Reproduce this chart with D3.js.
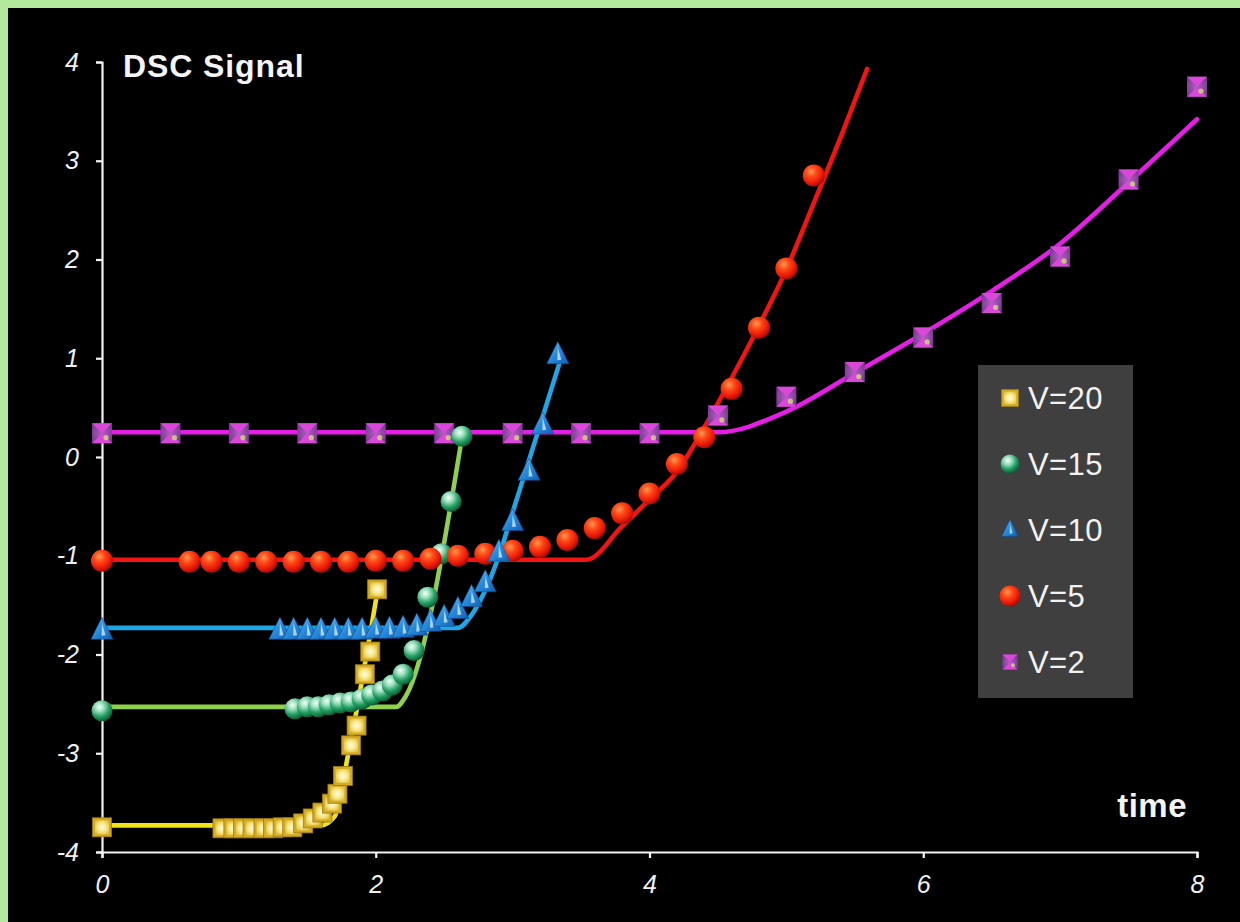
<!DOCTYPE html>
<html>
<head>
<meta charset="utf-8">
<script src="https://cdn.jsdelivr.net/npm/d3@7/dist/d3.min.js"></script>
<style>
  html, body { margin: 0; padding: 0; background: #b3e99d; }
  svg { display: block; }
  text { font-family: "Liberation Sans", Arial, sans-serif; }
</style>
</head>
<body>
<svg id="chart" width="1240" height="922"></svg>
<script>
// ---- data: DSC signal vs time for several heating rates V ----
const seriesNames = ["V=20", "V=15", "V=10", "V=5", "V=2"];
const xTicks = [0, 2, 4, 6, 8];
const yTicks = [-4, -3, -2, -1, 0, 1, 2, 3, 4];

// V=20 measured points and fitted curve
const tV20 = [0, 0.88, 0.96, 1.03, 1.10, 1.18, 1.25, 1.32, 1.39, 1.47, 1.54, 1.61, 1.68, 1.72, 1.76, 1.82, 1.86, 1.92, 1.96, 2.01];
const yV20 = [-3.75, -3.76, -3.76, -3.76, -3.76, -3.76, -3.76, -3.75, -3.75, -3.71, -3.66, -3.60, -3.51, -3.41, -3.23, -2.92, -2.72, -2.20, -1.97, -1.34];
const tV20Fit = [0, 1.60, 1.70, 1.80, 2.01];
const yV20Fit = [-3.73, -3.73, -3.64, -3.00, -1.38];

// V=15
const tV15 = [0, 1.41, 1.50, 1.58, 1.66, 1.74, 1.82, 1.90, 1.97, 2.05, 2.12, 2.20, 2.28, 2.38, 2.48, 2.55, 2.63];
const yV15 = [-2.57, -2.55, -2.53, -2.53, -2.51, -2.49, -2.48, -2.45, -2.41, -2.37, -2.31, -2.20, -1.96, -1.42, -0.98, -0.45, 0.21];
const tV15Fit = [0, 2.15, 2.22, 2.63];
const yV15Fit = [-2.53, -2.53, -2.42, 0.20];

// V=10
const tV10 = [0, 1.3, 1.4, 1.5, 1.6, 1.7, 1.8, 1.9, 2.0, 2.1, 2.2, 2.3, 2.4, 2.5, 2.6, 2.7, 2.8, 2.9, 3.0, 3.12, 3.22, 3.33];
const yV10 = [-1.76, -1.76, -1.76, -1.76, -1.76, -1.76, -1.76, -1.76, -1.75, -1.75, -1.74, -1.72, -1.68, -1.63, -1.55, -1.43, -1.28, -0.97, -0.66, -0.15, 0.32, 1.03];
const tV10Fit = [0, 2.6, 2.7, 2.8, 2.9, 3.0, 3.1, 3.2, 3.34];
const yV10Fit = [-1.73, -1.73, -1.60, -1.35, -1.00, -0.56, -0.12, 0.32, 0.94];

// V=5
const tV5 = [0, 0.64, 0.8, 1.0, 1.2, 1.4, 1.6, 1.8, 2.0, 2.2, 2.4, 2.6, 2.8, 3.0, 3.2, 3.4, 3.6, 3.8, 4.0, 4.2, 4.4, 4.6, 4.8, 5.0, 5.2];
const yV5 = [-1.05, -1.06, -1.06, -1.06, -1.06, -1.06, -1.06, -1.06, -1.05, -1.05, -1.03, -1.00, -0.98, -0.95, -0.91, -0.84, -0.72, -0.57, -0.37, -0.07, 0.20, 0.69, 1.31, 1.91, 2.85];
const tV5Fit = [0, 3.54, 3.8, 4.0, 4.2, 4.4, 4.6, 4.8, 5.0, 5.2, 5.4, 5.59];
const yV5Fit = [-1.04, -1.04, -0.70, -0.43, -0.15, 0.30, 0.80, 1.33, 1.90, 2.57, 3.25, 3.93];

// V=2
const tV2 = [0, 0.5, 1, 1.5, 2, 2.5, 3, 3.5, 4, 4.5, 5, 5.5, 6, 6.5, 7, 7.5, 8];
const yV2 = [0.24, 0.24, 0.24, 0.24, 0.24, 0.24, 0.24, 0.24, 0.24, 0.42, 0.61, 0.86, 1.21, 1.56, 2.03, 2.81, 3.75];
const tV2Fit = [0, 4.5, 5, 5.5, 6, 6.5, 7, 7.5, 8];
const yV2Fit = [0.25, 0.25, 0.46, 0.85, 1.25, 1.68, 2.16, 2.78, 3.42];

// ---- chart setup ----
const W = 1240, H = 922;
const svg = d3.select("#chart");

const x = d3.scaleLinear().domain([0, 8]).range([102, 1197]);
const y = d3.scaleLinear().domain([-4, 4]).range([852, 62]);

const zip = (a, b) => a.map((v, i) => [v, b[i]]);

const series = [
  { name: seriesNames[4], pts: zip(tV2, yV2),   fit: zip(tV2Fit, yV2Fit),   color: "#e41ee4", shape: "hourglass" },
  { name: seriesNames[0], pts: zip(tV20, yV20), fit: zip(tV20Fit, yV20Fit), color: "#f2e21a", shape: "square" },
  { name: seriesNames[1], pts: zip(tV15, yV15), fit: zip(tV15Fit, yV15Fit), color: "#8fd04c", shape: "greenBall" },
  { name: seriesNames[3], pts: zip(tV5, yV5),   fit: zip(tV5Fit, yV5Fit),   color: "#f21410", shape: "redBall" },
  { name: seriesNames[2], pts: zip(tV10, yV10), fit: zip(tV10Fit, yV10Fit), color: "#1ea6e6", shape: "triangle" }
];

// ---- gradients for the shaded markers ----
const defs = svg.append("defs");
function radial(id, stops, cx = "38%", cy = "32%", r = "70%") {
  const g = defs.append("radialGradient").attr("id", id)
    .attr("cx", cx).attr("cy", cy).attr("r", r);
  stops.forEach(([o, c]) => g.append("stop").attr("offset", o).attr("stop-color", c));
}
radial("gGreen", [["0%", "#f2fff8"], ["30%", "#9fe0c0"], ["65%", "#24a064"], ["100%", "#0b5a32"]]);
radial("gRed", [["0%", "#ff9a50"], ["35%", "#ff4a18"], ["75%", "#e81808"], ["100%", "#a00c04"]]);
radial("gYellow", [["0%", "#fffbe6"], ["45%", "#f8e88a"], ["100%", "#d8b226"]], "50%", "50%", "70%");
const lg = defs.append("linearGradient").attr("id", "gBlue")
  .attr("x1", "0%").attr("y1", "0%").attr("x2", "100%").attr("y2", "100%");
[["0%", "#7ed0ff"], ["45%", "#2a8ee0"], ["100%", "#135fb0"]]
  .forEach(([o, c]) => lg.append("stop").attr("offset", o).attr("stop-color", c));
radial("gPurple", [["0%", "#b060c0"], ["100%", "#70308a"]], "50%", "50%", "70%");

// ---- background ----
svg.append("rect").attr("x", 0).attr("y", 0).attr("width", W).attr("height", H).attr("fill", "#b3e99d");
svg.append("rect").attr("x", 8).attr("y", 8).attr("width", W - 8).attr("height", H - 8).attr("fill", "#000");

// ---- axes ----
const axisColor = "#f2f2f2";
const gy = svg.append("g").attr("transform", `translate(${x(0)},0)`)
  .call(d3.axisLeft(y).tickValues(yTicks).tickSize(6).tickPadding(17).tickFormat(d => String(d)));
const gx = svg.append("g").attr("transform", `translate(0,${y(-4)})`)
  .call(d3.axisBottom(x).tickValues(xTicks).tickSize(6).tickPadding(17).tickFormat(d => String(d)));
[gx, gy].forEach(g => {
  g.select(".domain").attr("stroke", axisColor).attr("stroke-width", 2.2);
  g.selectAll(".tick line").attr("stroke", axisColor).attr("stroke-width", 2.2);
  g.selectAll(".tick text").attr("fill", "#f0f0f0").attr("font-size", 25)
    .attr("font-style", "italic").attr("font-family", "'Liberation Sans', Arial, sans-serif");
});

// ---- fitted curves ----
const line = d3.line().x(d => x(d[0])).y(d => y(d[1])).curve(d3.curveMonotoneX);
const lineLayer = svg.append("g");
series.forEach(s => {
  lineLayer.append("path").datum(s.fit).attr("d", line)
    .attr("fill", "none").attr("stroke", s.color).attr("stroke-width", 4.6)
    .attr("stroke-linejoin", "round").attr("stroke-linecap", "round");
});

// ---- markers ----
function drawMarker(g, shape, k) {
  if (shape === "square") {
    const s = 19 * k;
    g.append("rect").attr("x", -s / 2).attr("y", -s / 2).attr("width", s).attr("height", s)
      .attr("fill", "#d4aa22").attr("stroke", "#9a7a10").attr("stroke-width", 0.8);
    g.append("rect").attr("x", -s / 2 + 2.5 * k).attr("y", -s / 2 + 2.5 * k)
      .attr("width", s - 5 * k).attr("height", s - 5 * k).attr("fill", "url(#gYellow)");
  } else if (shape === "greenBall") {
    g.append("circle").attr("r", 10.5 * k).attr("fill", "url(#gGreen)");
  } else if (shape === "redBall") {
    g.append("circle").attr("r", 11 * k).attr("fill", "url(#gRed)");
  } else if (shape === "triangle") {
    const w = 22 * k, h = 22 * k;
    g.append("path").attr("d", `M0,${-h * 0.62}L${w / 2},${h * 0.38}L${-w / 2},${h * 0.38}Z`)
      .attr("fill", "url(#gBlue)").attr("stroke", "#0e4f96").attr("stroke-width", 0.6);
    g.append("path").attr("d", `M0,${-h * 0.35}L${w * 0.16},${h * 0.2}L${-w * 0.02},${h * 0.22}Z`)
      .attr("fill", "#d8f0ff").attr("opacity", 0.75);
  } else if (shape === "hourglass") {
    const s = 20 * k;
    g.append("rect").attr("x", -s / 2).attr("y", -s / 2).attr("width", s).attr("height", s)
      .attr("fill", "url(#gPurple)");
    g.append("path")
      .attr("d", `M${-s / 2},${-s / 2}L${s / 2},${-s / 2}L0,0L${s / 2},${s / 2}L${-s / 2},${s / 2}L0,0Z`)
      .attr("fill", "#d948d9");
    g.append("circle").attr("cx", s * 0.2).attr("cy", s * 0.22).attr("r", 2.6 * k)
      .attr("fill", "#c8cf7a").attr("opacity", 0.9);
  }
}

const markerLayer = svg.append("g");
series.forEach(s => {
  markerLayer.append("g").selectAll("g").data(s.pts).join("g")
    .attr("transform", d => `translate(${x(d[0])},${y(d[1])})`)
    .each(function () { drawMarker(d3.select(this), s.shape, 1); });
});

// ---- titles ----
svg.append("text").attr("x", 123).attr("y", 77).text("DSC Signal")
  .attr("fill", "#f4f4f4").attr("font-size", 32).attr("font-weight", "bold")
  .attr("letter-spacing", 0.9);
svg.append("text").attr("x", 1187).attr("y", 817).attr("text-anchor", "end").text("time")
  .attr("fill", "#f4f4f4").attr("font-size", 33).attr("font-weight", "bold")
  .attr("letter-spacing", 0.5);

// ---- legend ----
const legendOrder = [
  { name: seriesNames[0], shape: "square", k: 0.9 },
  { name: seriesNames[1], shape: "greenBall", k: 0.9 },
  { name: seriesNames[2], shape: "triangle", k: 0.75 },
  { name: seriesNames[3], shape: "redBall", k: 0.95 },
  { name: seriesNames[4], shape: "hourglass", k: 0.75 }
];
const legend = svg.append("g");
legend.append("rect").attr("x", 978).attr("y", 365).attr("width", 155).attr("height", 333)
  .attr("fill", "#3f3f3f");
const ly = d3.scalePoint().domain(legendOrder.map(d => d.name)).range([398, 662]);
legendOrder.forEach(d => {
  const g = legend.append("g").attr("transform", `translate(1010,${ly(d.name)})`);
  drawMarker(g, d.shape, d.k);
  legend.append("text").attr("x", 1028).attr("y", ly(d.name)).attr("dy", "0.36em")
    .text(d.name).attr("fill", "#f2f2f2").attr("font-size", 31).attr("letter-spacing", 0.4);
});
</script>
</body>
</html>
